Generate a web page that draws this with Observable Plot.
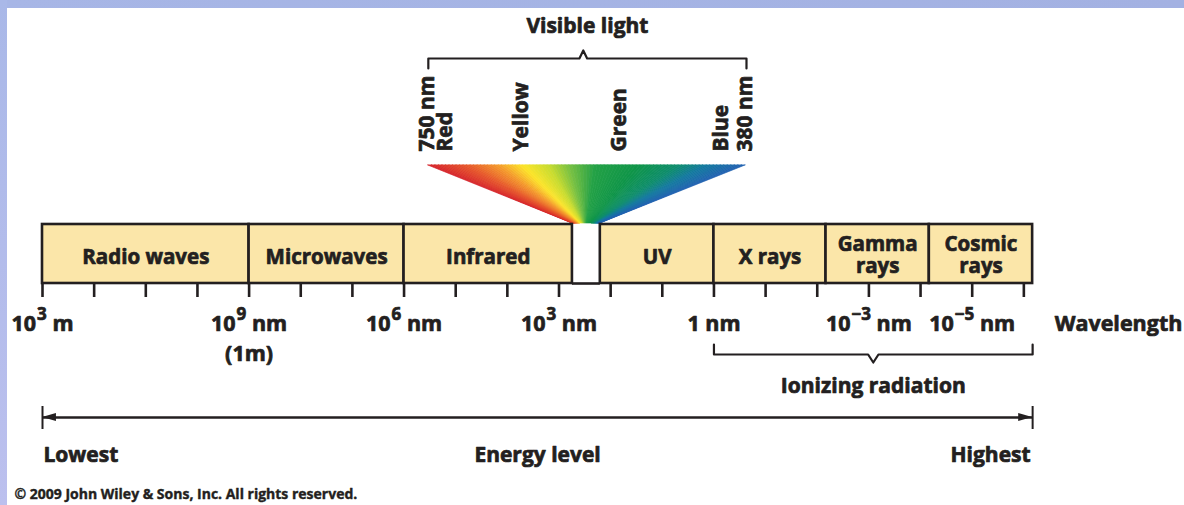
<!DOCTYPE html>
<html><head><meta charset="utf-8">
<script src="https://cdn.jsdelivr.net/npm/d3@7"></script>
<script src="https://cdn.jsdelivr.net/npm/@observablehq/plot@0.6"></script>
<style>
html,body{margin:0;padding:0;background:#fff;}
#chart{width:1184px;height:505px;overflow:hidden;}
</style></head><body><div id="chart"></div>
<script>
// ---- data (x in "tick units": one unit per tick mark along the wavelength ruler) ----
const bandNames  = ["Radio waves", "Microwaves", "Infrared", "UV", "X rays", "Gamma\nrays", "Cosmic\nrays"];
const bandStarts = [0, 4, 7, 10.80, 13, 15.17, 17.17];
const bandEnds   = [4, 7, 10.26, 13, 15.17, 17.17, 19.17];
const visibleGap = [10.26, 10.80];

const tickPositions = [0,1,2,3,4,5,6,7,8,9,10,11,12,13,14,15,16,17,18,19];
const tickLabelPositions = [0, 4, 7, 10, 13, 16, 18];
const tickLabels = ["10^3 m", "10^9 nm", "10^6 nm", "10^3 nm", "1 nm", "10^\u22123 nm", "10^\u22125 nm"];

const visibleLabels    = ["750 nm", "Red", "Yellow", "Green", "Blue", "380 nm"];
const visibleLabelPos  = [7.454, 7.80, 9.264, 11.17, 13.136, 13.61];
const visibleRange     = [7.47, 13.61];   // top edge of the spectrum fan
const visibleBracket   = [7.47, 13.63];
const visibleCaret     = 10.47;
const spectrumStops    = [0, 0.12, 0.22, 0.30, 0.38, 0.45, 0.53, 0.66, 0.79, 0.88, 1];
const spectrumColors   = ["#d5222b", "#e6562b", "#f4992c", "#fde52a", "#c9dc2f", "#74bf43", "#23a146", "#0f9548", "#0e8d6c", "#13799f", "#2161b1"];

const ionizingRange = [13, 19.17];
const energyRange   = [0, 19.17];

// ---- styles ----
const FONT = "'Open Sans', 'DejaVu Sans', sans-serif";
const INK = "#231f20";
const BOX = "#fbe6a9";

const bands = bandNames.map((name, i) => ({name, start: bandStarts[i], end: bandEnds[i], mid: (bandStarts[i] + bandEnds[i]) / 2}));
const ticks = tickLabels.map((t, i) => ({t, x: tickLabelPositions[i]}));
const visLabels = visibleLabels.map((t, i) => ({t, x: visibleLabelPos[i]}));

// spectrum fan built from slices between the wide top edge and the narrow gap
const colorAt = d3.scaleLinear().domain(spectrumStops).range(spectrumColors).interpolate(d3.interpolateRgb);
const fan = [];
const NS = 90;
for (let i = 0; i < NS; i++) {
  const t0 = i / NS, t1 = (i + 1) / NS;
  const c = colorAt((t0 + t1) / 2);
  const lerp = (a, b, t) => a + (b - a) * t;
  fan.push({i, c, y: 165, x1: lerp(visibleRange[0], visibleRange[1], t0), x2: lerp(visibleRange[0], visibleRange[1], t1)});
  fan.push({i, c, y: 223, x1: lerp(visibleGap[0], visibleGap[1], t0), x2: lerp(visibleGap[0], visibleGap[1], t1)});
}

const caretW = 0.075;
const visBracketPath = [
  {x: visibleBracket[0], y: 68}, {x: visibleBracket[0], y: 58},
  {x: visibleCaret - caretW, y: 58}, {x: visibleCaret, y: 50}, {x: visibleCaret + caretW, y: 58},
  {x: visibleBracket[1], y: 58}, {x: visibleBracket[1], y: 68}
];
const ionMid = (ionizingRange[0] + ionizingRange[1]) / 2;
const ionBracketPath = [
  {x: ionizingRange[0], y: 344}, {x: ionizingRange[0], y: 354},
  {x: ionMid - 0.1, y: 354}, {x: ionMid, y: 362}, {x: ionMid + 0.1, y: 354},
  {x: ionizingRange[1], y: 354}, {x: ionizingRange[1], y: 344}
];
const headL = 0.27;
const heads = [
  {k: 0, x: energyRange[0], y1: 417, y2: 417}, {k: 0, x: energyRange[0] + headL, y1: 413, y2: 421},
  {k: 1, x: energyRange[1] - headL, y1: 413, y2: 421}, {k: 1, x: energyRange[1], y1: 417, y2: 417}
];

const txt = {fontFamily: FONT, fontWeight: 700, fill: INK, stroke: INK, strokeWidth: 0.7};

const svg = Plot.plot({
  width: 1184, height: 505,
  marginTop: 0, marginRight: 0, marginBottom: 0, marginLeft: 0,
  x: {domain: [0, 19], range: [42, 1023.35], axis: null},
  y: {domain: [0, 505], range: [0, 505], axis: null},
  color: {type: "identity"},
  style: "background: linear-gradient(to bottom, #a9b8e8 0px, #bcc0ee 505px) left top / 7px 505px no-repeat, linear-gradient(to right, #a7b6e6, #a3b1e2) left top / 1184px 8px no-repeat, white;",
  marks: [
    // spectrum fan
    Plot.areaX(fan, {y: "y", x1: "x1", x2: "x2", z: "i", fill: "c", stroke: "c", strokeWidth: 0.7, curve: "linear"}),
    // band boxes
    Plot.rect(bands, {x1: "start", x2: "end", y1: 224, y2: 283, fill: BOX, stroke: INK, strokeWidth: 2.6}),
    Plot.ruleY([283], {x1: visibleGap[0], x2: visibleGap[1], stroke: INK, strokeWidth: 2.6}),
    // ticks
    Plot.ruleX(tickPositions, {y1: 283, y2: 297, stroke: INK, strokeWidth: 2.6}),
    // band labels
    Plot.text(bands, {x: "mid", y: d => d.name.includes("\n") ? 254 : 256.5, text: "name", fontSize: 20.5, lineHeight: 1.07, ...txt}),
    // tick labels
    Plot.text(ticks, {x: "x", y: 324, text: "t", fontSize: 21.5, ...txt}),
    Plot.text(["(1m)"], {x: 4, y: 354, text: d => d, fontSize: 21.5, ...txt}),
    Plot.text(["Wavelength"], {x: 19.17, y: 324, dx: 22, text: d => d, textAnchor: "start", fontSize: 21.5, ...txt}),
    // visible light
    Plot.line(visBracketPath, {x: "x", y: "y", stroke: INK, strokeWidth: 2.2, curve: "linear"}),
    Plot.text(["Visible light"], {x: (visibleBracket[0] + visibleBracket[1]) / 2, y: 25.5, text: d => d, fontSize: 21, ...txt}),
    Plot.text(visLabels, {x: "x", y: 151, text: "t", rotate: -90, textAnchor: "start", fontSize: 21, ...txt}),
    // ionizing radiation
    Plot.line(ionBracketPath, {x: "x", y: "y", stroke: INK, strokeWidth: 2.2, curve: "linear"}),
    Plot.text(["Ionizing radiation"], {x: ionMid, y: 386, text: d => d, fontSize: 21, ...txt}),
    // energy arrow
    Plot.ruleY([417], {x1: energyRange[0], x2: energyRange[1], stroke: INK, strokeWidth: 2.4}),
    Plot.ruleX(energyRange, {y1: 406, y2: 429, stroke: INK, strokeWidth: 2}),
    Plot.areaY(heads, {x: "x", y1: "y1", y2: "y2", z: "k", fill: INK, curve: "linear"}),
    Plot.text(["Lowest"], {x: energyRange[0], y: 455, dx: 1, text: d => d, textAnchor: "start", fontSize: 21, ...txt}),
    Plot.text(["Energy level"], {x: (energyRange[0] + energyRange[1]) / 2, y: 455, text: d => d, fontSize: 21, ...txt}),
    Plot.text(["Highest"], {x: energyRange[1], y: 455, dx: -2, text: d => d, textAnchor: "end", fontSize: 21, ...txt}),
    // copyright
    Plot.text(["\u00a9 2009 John Wiley & Sons, Inc. All rights reserved."], {x: energyRange[0], y: 494, dx: -28, text: d => d, textAnchor: "start", fontSize: 14, ...txt, strokeWidth: 0.4})
  ]
});

// superscripts: "10^3 m" -> 10<sup>3</sup> m
d3.select(svg).selectAll("text").each(function () {
  const t = this.textContent;
  const m = t.match(/^(.*?)\^(\S+)(.*)$/);
  if (!m) return;
  const sel = d3.select(this);
  sel.text(null);
  sel.append("tspan").text(m[1]);
  sel.append("tspan").attr("dy", -11).attr("font-size", 17).attr("dx", 1).text(m[2]);
  sel.append("tspan").attr("dy", 11).text(m[3]);
});

document.getElementById("chart").appendChild(svg);
</script></body></html>
